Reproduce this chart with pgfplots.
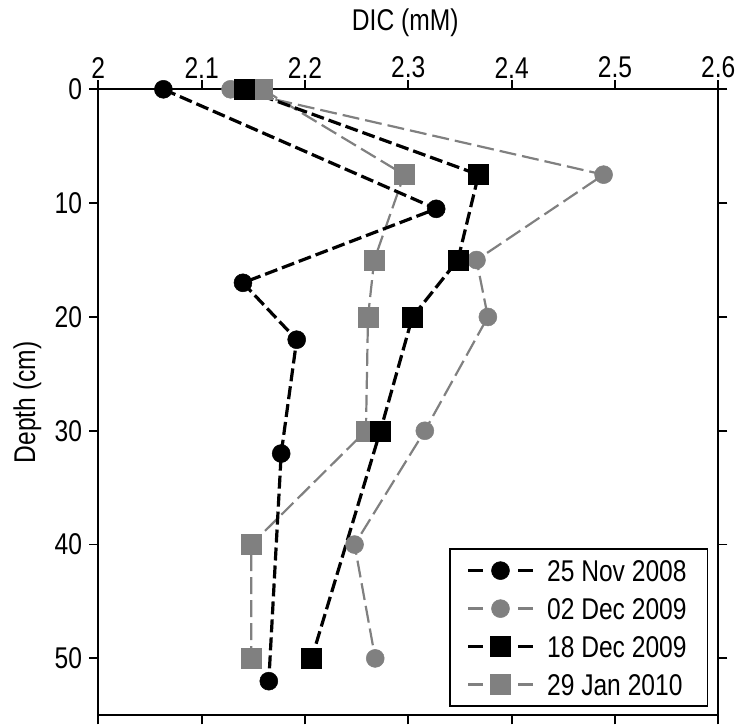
\documentclass[border=0pt]{standalone}
\usepackage{fontspec}
\setmainfont{Liberation Sans}[FakeStretch=0.82]
\usepackage{pgfplots}
\pgfplotsset{compat=1.18}
\definecolor{midgray}{RGB}{128,128,128}

\begin{document}
\begin{tikzpicture}
\useasboundingbox (-98.3bp,-8.8bp) rectangle (641.7bp,715.3bp);
\begin{axis}[
  scale only axis,
  width=620bp, height=626bp,
  xmin=2, xmax=2.6, ymin=0, ymax=55,
  y dir=reverse,
  xtick={2,2.1,2.2,2.3,2.4,2.5,2.6},
  xticklabels={2,2.1,2.2,2.3,2.4,2.5,2.6},
  ytick={0,10,20,30,40,50},
  yticklabels={0,10,20,30,40,50},
  xticklabel pos=right,
  xtick pos=both, ytick pos=both,
  yticklabel pos=left,
  tick align=outside,
  major tick length=9bp,
  axis line style={line width=2bp},
  every tick/.style={black, line width=1.8bp},
  font=\fontsize{30bp}{34bp}\selectfont,
  xticklabel style={inner sep=2bp},
  yticklabel style={inner ysep=2bp, inner xsep=7bp},
  /pgf/number format/assume math mode=true,
  xlabel={DIC (mM)},
  ylabel={Depth (cm)},
  xlabel style={at={(axis description cs:0.495,1.106)}, anchor=center},
  ylabel style={at={(axis description cs:-0.1145,0.5)}, anchor=center},
  legend image code/.code={%
    \draw[mark repeat=2, mark phase=2, #1]
      plot coordinates {(0bp,0bp) (32bp,0bp) (73bp,0bp)};},
  legend cell align=left,
  legend style={
    at={(axis description cs:1,0)}, anchor=south east,
    xshift=-10bp, yshift=8.5bp,
    draw=black, line width=1.4bp,
    inner xsep=17bp, inner ysep=6.5bp,
    row sep=8bp,
    nodes={inner sep=4bp, text height=22bp, text depth=0bp},
    font=\fontsize{30bp}{34bp}\selectfont,
  },
  grayline/.style={midgray, line width=2.2bp, dash pattern=on 17bp off 6bp},
  blackline/.style={black, line width=3.2bp, dash pattern=on 13bp off 5bp},
]

% gray series first so the black ones sit on top
\addplot[forget plot, grayline, mark=*, mark size=9bp,
  mark options={solid, fill=midgray, draw=midgray, line width=0.5bp}]
  coordinates {(2.128,0) (2.489,7.5) (2.366,15) (2.377,20) (2.316,30) (2.248,40) (2.268,50)};
\addplot[forget plot, grayline, mark=square*, mark size=10bp,
  mark options={solid, fill=midgray, draw=midgray, line width=0.5bp}]
  coordinates {(2.159,0) (2.296,7.5) (2.267,15) (2.261,20) (2.259,30) (2.148,40) (2.148,50)};
\addplot[forget plot, blackline, mark=*, mark size=9bp,
  mark options={solid, fill=black, draw=black, line width=0.5bp}]
  coordinates {(2.063,0) (2.327,10.5) (2.140,17) (2.192,22) (2.177,32) (2.165,52)};
\addplot[forget plot, blackline, mark=square*, mark size=10bp,
  mark options={solid, fill=black, draw=black, line width=0.5bp}]
  coordinates {(2.141,0) (2.368,7.5) (2.348,15) (2.304,20) (2.273,30) (2.2065,50)};

\addlegendimage{black, line width=3.2bp, dash pattern=on 15bp off 10bp, mark=*, mark size=9bp,
  mark options={solid, fill=black, draw=black, line width=0.5bp}}
\addlegendentry{25 Nov 2008}
\addlegendimage{midgray, line width=3bp, dash pattern=on 15bp off 10bp, mark=*, mark size=9bp,
  mark options={solid, fill=midgray, draw=midgray, line width=0.5bp}}
\addlegendentry{02 Dec 2009}
\addlegendimage{black, line width=3.2bp, dash pattern=on 15bp off 10bp, mark=square*, mark size=10bp,
  mark options={solid, fill=black, draw=black, line width=0.5bp}}
\addlegendentry{18 Dec 2009}
\addlegendimage{midgray, line width=3bp, dash pattern=on 15bp off 10bp, mark=square*, mark size=10bp,
  mark options={solid, fill=midgray, draw=midgray, line width=0.5bp}}
\addlegendentry{29 Jan 2010}
\end{axis}
\end{tikzpicture}
\end{document}
